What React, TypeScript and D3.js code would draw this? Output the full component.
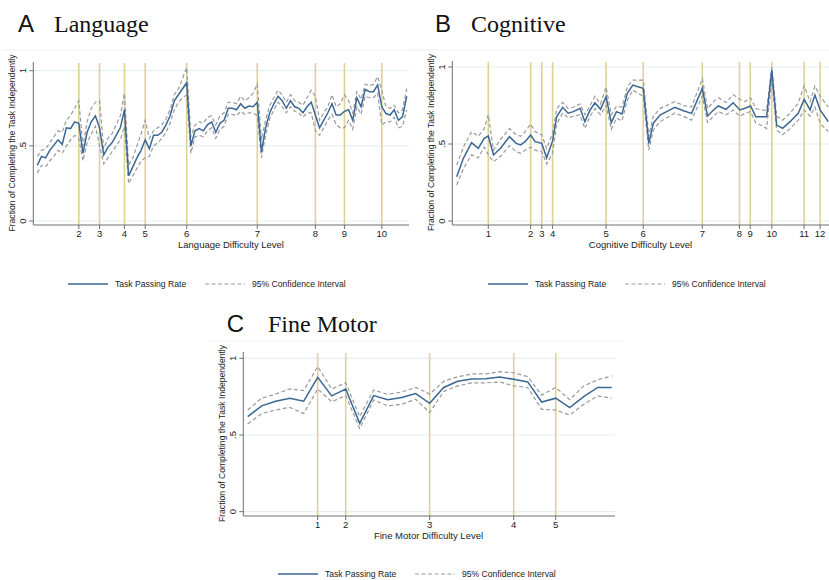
import React from "react";
import { scaleLinear, line, range } from "d3";

// ---- Panel A: Language (tasks ordered by difficulty, index = x) ----
const langRate = [
  0.37, 0.43, 0.42, 0.47, 0.505, 0.54, 0.51, 0.62, 0.615, 0.66,
  0.65, 0.45, 0.59, 0.66, 0.70, 0.62, 0.44, 0.49, 0.52, 0.57,
  0.62, 0.74, 0.30, 0.36, 0.42, 0.47, 0.54, 0.48, 0.57, 0.57,
  0.59, 0.64, 0.70, 0.80, 0.84, 0.88, 0.92, 0.50, 0.60, 0.615,
  0.60, 0.64, 0.66, 0.59, 0.65, 0.67, 0.75, 0.75, 0.74, 0.78,
  0.75, 0.765, 0.76, 0.79, 0.46, 0.62, 0.72, 0.78, 0.83, 0.80,
  0.75, 0.80, 0.76, 0.75, 0.72, 0.76, 0.79, 0.705, 0.62, 0.67,
  0.72, 0.78, 0.705, 0.705, 0.73, 0.74, 0.67, 0.82, 0.76, 0.875,
  0.86, 0.86, 0.905, 0.76, 0.715, 0.705, 0.74, 0.67, 0.695, 0.83,
];
const langUpper = [
  0.43, 0.47, 0.48, 0.52, 0.56, 0.60, 0.59, 0.67, 0.70, 0.75,
  0.80, 0.50, 0.66, 0.75, 0.79, 0.80, 0.48, 0.55, 0.58, 0.64,
  0.70, 0.85, 0.37, 0.42, 0.50, 0.58, 0.67, 0.55, 0.60, 0.62,
  0.64, 0.68, 0.74, 0.84, 0.88, 0.95, 1.02, 0.56, 0.64, 0.66,
  0.65, 0.69, 0.70, 0.64, 0.70, 0.72, 0.79, 0.79, 0.78, 0.83,
  0.80, 0.82, 0.85, 0.91, 0.54, 0.67, 0.77, 0.82, 0.87, 0.84,
  0.79, 0.84, 0.80, 0.79, 0.77, 0.82, 0.87, 0.83, 0.67, 0.72,
  0.76, 0.84, 0.76, 0.78, 0.84, 0.80, 0.72, 0.86, 0.81, 0.91,
  0.90, 0.91, 0.96, 0.87, 0.76, 0.75, 0.77, 0.72, 0.74, 0.88,
];
const langLower = [
  0.32, 0.37, 0.36, 0.40, 0.43, 0.47, 0.45, 0.50, 0.54, 0.57,
  0.55, 0.40, 0.52, 0.58, 0.63, 0.50, 0.38, 0.42, 0.46, 0.50,
  0.54, 0.63, 0.25, 0.30, 0.35, 0.40, 0.42, 0.43, 0.50, 0.52,
  0.55, 0.59, 0.65, 0.74, 0.79, 0.82, 0.84, 0.45, 0.56, 0.57,
  0.56, 0.60, 0.62, 0.55, 0.61, 0.63, 0.71, 0.71, 0.70, 0.73,
  0.71, 0.72, 0.72, 0.70, 0.42, 0.57, 0.68, 0.74, 0.79, 0.76,
  0.72, 0.76, 0.73, 0.72, 0.69, 0.72, 0.72, 0.60, 0.57, 0.62,
  0.67, 0.71, 0.64, 0.62, 0.62, 0.67, 0.61, 0.76, 0.71, 0.83,
  0.82, 0.82, 0.85, 0.64, 0.66, 0.66, 0.69, 0.62, 0.63, 0.74,
];
const langLevels = [10, 15, 21, 26, 36, 53, 67, 74, 83];
const langLevelLabels = ["2", "3", "4", "5", "6", "7", "8", "9", "10"];

// ---- Panel B: Cognitive (difficulty score 0-100) ----
const cogScore = [
  0, 1.8, 4.0, 5.8, 7.4, 8.5, 9.9, 11.8, 14.2, 16.0,
  17.2, 18.4, 19.9, 21.1, 22.9, 24.2, 25.8, 26.9, 28.5, 30.0,
  31.4, 33.2, 34.5, 35.9, 37.2, 38.7, 40.2, 41.6, 43.0, 44.5,
  45.9, 47.4, 48.8, 50.2, 51.7, 52.9, 54.7, 56.5, 58.7, 61.0,
  63.2, 66.1, 67.5, 69.1, 70.4, 72.5, 74.4, 76.2, 77.6, 79.1,
  80.5, 82.1, 83.4, 84.8, 86.1, 87.7, 89.7, 91.9, 93.5, 95.1,
  96.4, 97.8, 100,
];
const cogRate = [
  0.288, 0.407, 0.509, 0.472, 0.537, 0.552, 0.429, 0.472, 0.548, 0.504,
  0.494, 0.515, 0.558, 0.515, 0.504, 0.41, 0.52, 0.677, 0.738, 0.70,
  0.71, 0.732, 0.645, 0.721, 0.768, 0.725, 0.807, 0.639, 0.71, 0.695,
  0.829, 0.883, 0.872, 0.861, 0.504, 0.634, 0.688, 0.71, 0.738, 0.716,
  0.699, 0.861, 0.682, 0.721, 0.747, 0.725, 0.768, 0.721, 0.732, 0.747,
  0.677, 0.677, 0.677, 0.98, 0.623, 0.602, 0.645, 0.699, 0.79, 0.721,
  0.818, 0.721, 0.645,
];
const cogUpper = [
  0.364, 0.48, 0.58, 0.55, 0.60, 0.69, 0.46, 0.53, 0.60, 0.56,
  0.55, 0.58, 0.63, 0.58, 0.56, 0.47, 0.57, 0.73, 0.77, 0.73,
  0.74, 0.76, 0.69, 0.75, 0.81, 0.76, 0.87, 0.69, 0.745, 0.74,
  0.87, 0.915, 0.915, 0.915, 0.55, 0.68, 0.73, 0.75, 0.775, 0.75,
  0.74, 0.925, 0.73, 0.775, 0.80, 0.77, 0.82, 0.79, 0.775, 0.80,
  0.73, 0.72, 0.72, 1.0, 0.68, 0.655, 0.70, 0.765, 0.877, 0.775,
  0.877, 0.81, 0.74,
];
const cogLower = [
  0.234, 0.34, 0.43, 0.41, 0.48, 0.43, 0.385, 0.42, 0.49, 0.45,
  0.44, 0.46, 0.48, 0.46, 0.45, 0.37, 0.44, 0.63, 0.70, 0.67,
  0.68, 0.69, 0.60, 0.68, 0.73, 0.69, 0.75, 0.595, 0.667, 0.65,
  0.785, 0.85, 0.83, 0.81, 0.46, 0.59, 0.645, 0.67, 0.70, 0.68,
  0.655, 0.81, 0.64, 0.68, 0.71, 0.69, 0.72, 0.68, 0.70, 0.71,
  0.635, 0.62, 0.60, 0.92, 0.59, 0.56, 0.60, 0.655, 0.72, 0.68,
  0.74, 0.635, 0.58,
];
const cogLevels = [8.5, 19.9, 22.9, 25.8, 40.2, 50.2, 66.1, 76.1, 79.0, 84.8, 93.5, 97.8];
const cogLevelLabels = ["1", "2", "3", "4", "5", "6", "7", "8", "9", "10", "11", "12"];

// ---- Panel C: Fine Motor ----
const fineRate = [
  0.62, 0.69, 0.72, 0.74, 0.72, 0.876, 0.755, 0.80, 0.576, 0.757,
  0.73, 0.745, 0.77, 0.707, 0.81, 0.85, 0.865, 0.867, 0.878, 0.863,
  0.846, 0.715, 0.74, 0.678, 0.75, 0.81, 0.81,
];
const fineUpper = [
  0.663, 0.74, 0.767, 0.80, 0.79, 0.946, 0.80, 0.84, 0.62, 0.793,
  0.765, 0.78, 0.81, 0.767, 0.85, 0.88, 0.898, 0.898, 0.913, 0.906,
  0.88, 0.76, 0.81, 0.73, 0.82, 0.86, 0.885,
];
const fineLower = [
  0.572, 0.64, 0.663, 0.68, 0.64, 0.80, 0.717, 0.757, 0.543, 0.728,
  0.69, 0.70, 0.733, 0.646, 0.783, 0.82, 0.84, 0.84, 0.846, 0.82,
  0.81, 0.667, 0.663, 0.63, 0.70, 0.755, 0.74,
];
const fineLevels = [5, 7, 13, 19, 22];
const fineLevelLabels = ["1", "2", "3", "4", "5"];

const yTicks = [0, 0.5, 1];
const yTickLabels = ["0", ".5", "1"];

const SANS = "'Liberation Sans', Arial, sans-serif";
const SERIF = "'Liberation Serif', 'Times New Roman', serif";
const BLUE = "#3b6794";
const LEVEL = "#ddd294";
const GRID = "#e4f0f0";
const AXIS = "#6f6f6f";

function Panel({ letter, name, axisName, xs, rate, upper, lower, levels, levelLabels, layout }) {
  const L = layout;
  const xScale = scaleLinear().domain([xs[0], xs[xs.length - 1]]).range([L.dataLeft, L.dataRight]);
  const yScale = scaleLinear().domain([0, 1]).range([L.y0, L.y1]);
  const mk = (vals) =>
    line<number>()
      .x((_, i) => xScale(xs[i]))
      .y((v) => yScale(v))(vals);

  return (
    <g>
      {/* title */}
      <text x={L.letterX} y={L.titleY} fontFamily={SANS} fontSize={24} fill="#111">{letter}</text>
      <text x={L.nameX} y={L.titleY} fontFamily={SERIF} fontSize={24} fill="#111">{name}</text>
      <line x1={L.frameLeft} x2={L.frameRight} y1={L.frameTop} y2={L.frameTop} stroke="#f0f0f0" />

      {/* gridlines */}
      {yTicks.map((t) => (
        <line key={t} x1={L.axisX} x2={L.right} y1={yScale(t)} y2={yScale(t)} stroke={GRID} strokeWidth={1.2} />
      ))}

      {/* level lines */}
      {levels.map((lv, i) => (
        <g key={i}>
          <line x1={xScale(lv)} x2={xScale(lv)} y1={L.top} y2={L.bottom} stroke={LEVEL} strokeWidth={1.6} />
          <line x1={xScale(lv)} x2={xScale(lv)} y1={L.bottom} y2={L.bottom + 4} stroke={AXIS} />
          <text x={xScale(lv)} y={L.bottom + 12} textAnchor="middle" fontFamily={SANS} fontSize={9.5} fill="#222">
            {levelLabels[i]}
          </text>
        </g>
      ))}

      {/* confidence interval + rate */}
      <path d={mk(upper)} fill="none" stroke="#9a9a9a" strokeWidth={1.2} strokeDasharray="4,2.5" />
      <path d={mk(lower)} fill="none" stroke="#9a9a9a" strokeWidth={1.2} strokeDasharray="4,2.5" />
      <path d={mk(rate)} fill="none" stroke={BLUE} strokeWidth={1.5} />

      {/* axes */}
      <line x1={L.axisX} x2={L.axisX} y1={L.top - 1} y2={L.bottom} stroke={AXIS} />
      <line x1={L.axisX} x2={L.right} y1={L.bottom} y2={L.bottom} stroke={AXIS} />
      {yTicks.map((t, i) => (
        <g key={t}>
          <line x1={L.axisX - 4} x2={L.axisX} y1={yScale(t)} y2={yScale(t)} stroke={AXIS} />
          <text
            transform={`translate(${L.axisX - 7},${yScale(t)}) rotate(-90)`}
            textAnchor="middle"
            fontFamily={SANS}
            fontSize={9.5}
            fill="#222"
          >
            {yTickLabels[i]}
          </text>
        </g>
      ))}
      <text
        transform={`translate(${L.axisX - 18},${(L.top + L.bottom) / 2 - 1}) rotate(-90)`}
        textAnchor="middle"
        fontFamily={SANS}
        fontSize={8.6}
        fill="#222"
      >
        Fraction of Completing the Task Independently
      </text>
      <text x={L.xTitleX} y={L.bottom + 23} textAnchor="middle" fontFamily={SANS} fontSize={9.5} fill="#222">
        {axisName}
      </text>

      {/* legend */}
      <line x1={L.legendX} x2={L.legendX + 40} y1={L.legendY} y2={L.legendY} stroke={BLUE} strokeWidth={1.5} />
      <text x={L.legendX + 47} y={L.legendY + 3} fontFamily={SANS} fontSize={8.6} fill="#222">Task Passing Rate</text>
      <line
        x1={L.legendX + 137}
        x2={L.legendX + 177}
        y1={L.legendY}
        y2={L.legendY}
        stroke="#9a9a9a"
        strokeWidth={1.2}
        strokeDasharray="4,2.5"
      />
      <text x={L.legendX + 184} y={L.legendY + 3} fontFamily={SANS} fontSize={8.6} fill="#222">95% Confidence Interval</text>
    </g>
  );
}

export default function App() {
  return (
    <svg
      width={829}
      height={580}
      style={{ position: "absolute", left: 0, top: 0, background: "#fff" }}
    >
      <Panel
        letter="A"
        name="Language"
        axisName="Language Difficulty Level"
        xs={range(langRate.length)}
        rate={langRate}
        upper={langUpper}
        lower={langLower}
        levels={langLevels}
        levelLabels={langLevelLabels}
        layout={{
          axisX: 33.3, right: 409, top: 63, bottom: 225, y1: 70.7, y0: 221,
          dataLeft: 37.3, dataRight: 406.7, titleY: 32, letterX: 18, nameX: 54,
          xTitleX: 231, legendX: 68, legendY: 284, frameLeft: 2, frameRight: 418, frameTop: 50,
        }}
      />
      <Panel
        letter="B"
        name="Cognitive"
        axisName="Cognitive Difficulty Level"
        xs={cogScore}
        rate={cogRate}
        upper={cogUpper}
        lower={cogLower}
        levels={cogLevels}
        levelLabels={cogLevelLabels}
        layout={{
          axisX: 452.3, right: 829, top: 62, bottom: 225, y1: 67, y0: 221,
          dataLeft: 456.7, dataRight: 828.3, titleY: 32, letterX: 435, nameX: 471,
          xTitleX: 640.5, legendX: 488, legendY: 284, frameLeft: 412, frameRight: 829, frameTop: 50,
        }}
      />
      <Panel
        letter="C"
        name="Fine Motor"
        axisName="Fine Motor Difficulty Level"
        xs={range(fineRate.length)}
        rate={fineRate}
        upper={fineUpper}
        lower={fineLower}
        levels={fineLevels}
        levelLabels={fineLevelLabels}
        layout={{
          axisX: 243.3, right: 615, top: 353, bottom: 516, y1: 358.3, y0: 511.7,
          dataLeft: 247.7, dataRight: 611.7, titleY: 332, letterX: 226.7, nameX: 268,
          xTitleX: 428.5, legendX: 278, legendY: 574, frameLeft: 210, frameRight: 622, frameTop: 341,
        }}
      />
    </svg>
  );
}
